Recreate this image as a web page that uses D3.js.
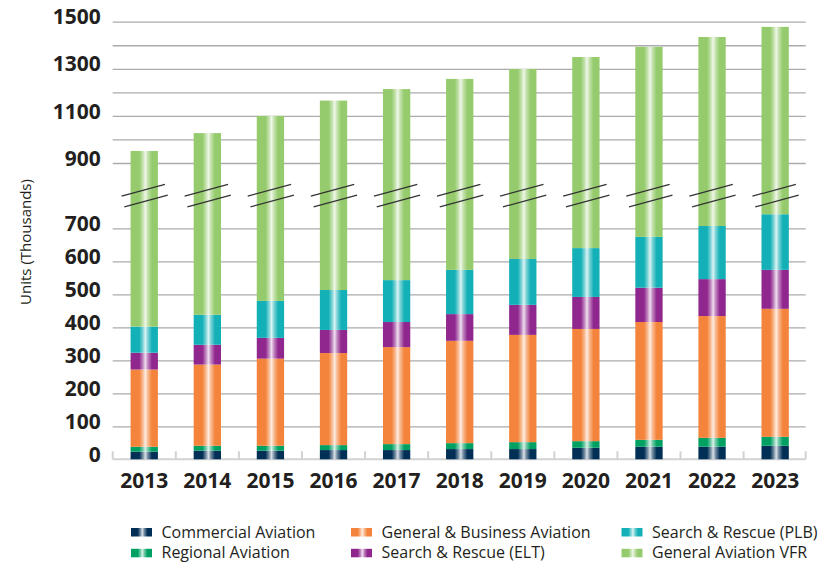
<!DOCTYPE html>
<html>
<head>
<meta charset="utf-8">
<script src="https://cdn.jsdelivr.net/npm/d3@7"></script>
<style>
  html, body { margin: 0; padding: 0; background: #fff; }
  svg { display: block; font-family: "Open Sans", "Noto Sans", sans-serif; }
</style>
</head>
<body>
<svg id="chart" width="827" height="565"></svg>
<script>
// Units in thousands, one value per year
const years = ["2013", "2014", "2015", "2016", "2017", "2018", "2019", "2020", "2021", "2022", "2023"];
const commercialAviation = [23, 26, 26, 28, 28, 31, 31, 35, 38, 38, 41];
const regionalAviation   = [15, 15, 15, 15, 18, 18, 21, 20, 21, 27, 27];
const generalBusiness    = [234, 246, 264, 279, 294, 310, 325, 340, 357, 369, 388];
const searchRescueELT    = [51, 60, 63, 70, 76, 81, 91, 97, 104, 112, 118];
const searchRescuePLB    = [79, 91, 112, 121, 127, 134, 139, 148, 154, 161, 169];
const generalAviationVFR = [549, 589, 620, 652, 671, 683, 692, 710, 719, 728, 735];

const seriesNames = ["Commercial Aviation", "Regional Aviation", "General & Business Aviation",
                     "Search & Rescue (ELT)", "Search & Rescue (PLB)", "General Aviation VFR"];
const seriesValues = [commercialAviation, regionalAviation, generalBusiness,
                      searchRescueELT, searchRescuePLB, generalAviationVFR];
const seriesColors = ["#022f56", "#00a063", "#f4843b", "#90278e", "#13b0b7", "#95cb6c"];

// Axis ticks: the scale is broken between 700 and 900
const gridTicks = [100, 200, 300, 400, 500, 600, 700, 900, 1000, 1100, 1200, 1300, 1400, 1500];
const labelTicks = [0, 100, 200, 300, 400, 500, 600, 700, 900, 1100, 1300, 1500];
const breakValue = 800;

// Legend layout: three columns of two entries (series indices)
const legendColumns = [[0, 1], [2, 3], [4, 5]];

const svg = d3.select("#chart");
const textColor = "#231f20";

const left = 112.7, right = 806.7, baseY = 459.3;

const x = d3.scaleBand().domain(years).range([left, right])
  .paddingInner(0.567).paddingOuter(0.2835);

// Piecewise scale: lower part 0–700, compressed upper part 900–1500
const y = d3.scaleLinear()
  .domain([0, 700, 900, 1500])
  .range([baseY, 228.3, 163, 21.7]);

// Glossy bar gradients
const defs = svg.append("defs");
seriesColors.forEach((c, i) => {
  const light = t => d3.interpolateRgb(c, "#ffffff")(t);
  const g = defs.append("linearGradient").attr("id", "grad" + i)
    .attr("x1", "0%").attr("x2", "100%").attr("y1", "0%").attr("y2", "0%");
  [[0, c], [0.32, c], [0.45, light(0.45)], [0.54, light(0.85)],
   [0.63, light(0.45)], [0.78, c], [1, c]]
    .forEach(([o, col]) => g.append("stop").attr("offset", o).attr("stop-color", col));
});

// Gridlines and y labels
const yAxis = d3.axisLeft(y)
  .tickValues(Array.from(new Set([...gridTicks, ...labelTicks])).sort((a, b) => a - b))
  .tickSize(0)
  .tickPadding(12)
  .tickFormat(d => labelTicks.includes(d) ? d : "");
const yG = svg.append("g").attr("transform", `translate(${left},0)`).call(yAxis);
yG.select(".domain").remove();
yG.selectAll(".tick text")
  .attr("fill", textColor)
  .attr("font-size", 21)
  .attr("font-weight", 700)
  .attr("font-family", "\"Open Sans\", sans-serif")
  .attr("dy", "0.1em");
yG.selectAll(".tick").filter(d => gridTicks.includes(d)).append("line")
  .attr("x1", 0).attr("x2", right - left - 1)
  .attr("stroke", "#ababab").attr("stroke-width", 1.3);

// Baseline with small separators between years
svg.append("line").attr("x1", left).attr("x2", right - 1)
  .attr("y1", baseY).attr("y2", baseY)
  .attr("stroke", "#d2d2d2").attr("stroke-width", 2);
const sepX = years.map(yr => x(yr) - x.step() * x.paddingOuter()).concat([right - 1]);
svg.append("g").selectAll("line").data(sepX).join("line")
  .attr("x1", d => d).attr("x2", d => d)
  .attr("y1", baseY - 8).attr("y2", baseY)
  .attr("stroke", "#d2d2d2").attr("stroke-width", 2);

// Stacked bars
const table = years.map((yr, i) => {
  const row = { year: yr };
  seriesNames.forEach((n, k) => row[n] = seriesValues[k][i]);
  return row;
});
const stacked = d3.stack().keys(seriesNames)(table);

svg.append("g").selectAll("g").data(stacked).join("g")
  .attr("fill", (d, i) => `url(#grad${i})`)
  .selectAll("rect").data(d => d).join("rect")
  .attr("x", d => x(d.data.year))
  .attr("width", x.bandwidth())
  .attr("y", d => y(d[1]))
  .attr("height", d => y(d[0]) - y(d[1]));

// Break marks across each bar
const yBreak = y(breakValue);
const half = 21.7, slope = 5.85;
const breaks = svg.append("g").attr("stroke", "#333").attr("stroke-width", 1.2);
years.forEach(yr => {
  const cx = x(yr) + x.bandwidth() / 2;
  [[-1, -5.4], [1.8, 5.4]].forEach(([dx, dy]) => {
    breaks.append("line")
      .attr("x1", cx + dx - half).attr("y1", yBreak + dy + slope)
      .attr("x2", cx + dx + half).attr("y2", yBreak + dy - slope);
  });
});

// Year labels
svg.append("g").selectAll("text").data(years).join("text")
  .attr("x", d => x(d) + x.bandwidth() / 2)
  .attr("y", 488)
  .attr("text-anchor", "middle")
  .attr("fill", textColor)
  .attr("font-size", 21)
  .attr("font-weight", 700)
  .text(d => d);

// Axis title
svg.append("text")
  .attr("transform", "translate(31,242) rotate(-90)")
  .attr("text-anchor", "middle")
  .attr("fill", textColor)
  .attr("font-size", 15)
  .text("Units (Thousands)");

// Legend
const colX = [131, 351, 621.5];
const rowY = [537.5, 558.3];
legendColumns.forEach((col, ci) => {
  col.forEach((si, ri) => {
    const g = svg.append("g").attr("transform", `translate(${colX[ci]},${rowY[ri]})`);
    g.append("rect").attr("x", 0).attr("y", -9.5).attr("width", 21).attr("height", 8.5)
      .attr("fill", `url(#grad${si})`);
    g.append("text").attr("x", 30.5).attr("y", 0)
      .attr("fill", textColor).attr("font-size", 16)
      .text(seriesNames[si]);
  });
});
</script>
</body>
</html>
